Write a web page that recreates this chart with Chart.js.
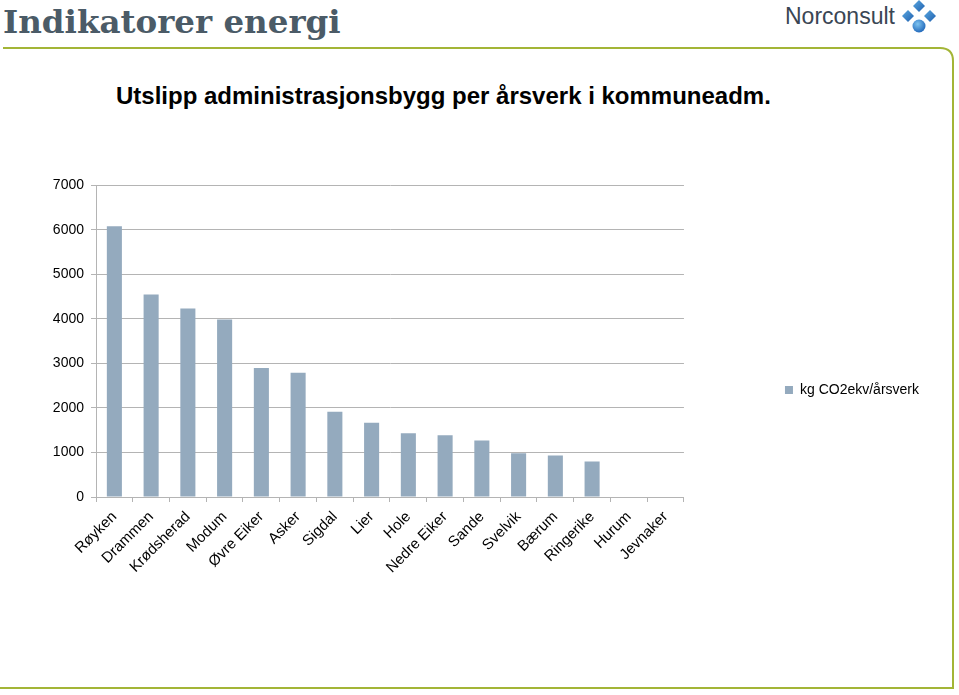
<!DOCTYPE html>
<html>
<head>
<meta charset="utf-8">
<script src="https://cdn.jsdelivr.net/npm/chart.js@4"></script>
<style>
  html, body { margin: 0; padding: 0; background: #fff; overflow: hidden; }
  body { width: 959px; height: 695px; position: relative; font-family: "Liberation Sans", Arial, sans-serif; }
  #heading { position: absolute; left: 3px; top: 0px; font-family: "DejaVu Serif", serif; font-weight: bold;
             font-size: 32.5px; color: #4b5b67; line-height: 44px; white-space: nowrap; }
  #brand { position: absolute; left: 785px; top: 1px; font-size: 23px; color: #3a4654; line-height: 30px; }
  #logo { position: absolute; left: 896px; top: 0; }
  #frame { position: absolute; left: 0; top: 0; }
  #title { position: absolute; left: 116px; top: 80px; font-size: 24px; font-weight: bold; color: #000;
           white-space: nowrap; line-height: 32px; }
  #wrap { position: absolute; left: 40px; top: 170px; width: 889px; height: 440px; }
</style>
</head>
<body>
<svg id="frame" width="959" height="695">
  <path d="M3 48 H940 Q953 48 953 61 V688 H0" fill="none" stroke="#a3b536" stroke-width="2"/>
</svg>
<div id="heading">Indikatorer energi</div>
<div id="brand">Norconsult</div>
<svg id="logo" width="44" height="36">
  <defs>
    <linearGradient id="g1" x1="0" y1="0" x2="1" y2="1">
      <stop offset="0" stop-color="#5aa8e0"/><stop offset="1" stop-color="#1f5fae"/>
    </linearGradient>
    <radialGradient id="g2" cx="0.4" cy="0.35" r="0.7">
      <stop offset="0" stop-color="#7fc4f0"/><stop offset="1" stop-color="#1d64b8"/>
    </radialGradient>
  </defs>
  <polygon points="23,0 29,6 23,12 17,6" fill="url(#g1)"/>
  <polygon points="12,10 18,16 12,22 6,16" fill="url(#g1)"/>
  <polygon points="34,10 40,16 34,22 28,16" fill="url(#g1)"/>
  <circle cx="23" cy="26" r="6.5" fill="url(#g2)"/>
</svg>
<div id="title">Utslipp administrasjonsbygg per årsverk i kommuneadm.</div>
<div id="wrap"><canvas id="myChart"></canvas></div>
<script>
const kommuner = ['Røyken', 'Drammen', 'Krødsherad', 'Modum', 'Øvre Eiker', 'Asker', 'Sigdal', 'Lier',
  'Hole', 'Nedre Eiker', 'Sande', 'Svelvik', 'Bærum', 'Ringerike', 'Hurum', 'Jevnaker']
const utslipp = [6080, 4550, 4235, 3990, 2900, 2790, 1915, 1670, 1430, 1385, 1270, 985, 935, 800, 0, 0]
const seriesLabel = 'kg CO2ekv/årsverk'
const yTicks = [0, 1000, 2000, 3000, 4000, 5000, 6000, 7000]

const canvas = document.getElementById('myChart')
const gridColor = '#b4b4b4'
const font = { family: '"Liberation Sans", Arial, sans-serif', size: 14 }

const config = {
  type: 'bar',
  data: {
    labels: kommuner,
    datasets: [{
      label: seriesLabel,
      data: utslipp,
      backgroundColor: '#94aabe',
      categoryPercentage: 1,
      barPercentage: 0.41
    }]
  },
  options: {
    responsive: true,
    maintainAspectRatio: false,
    animation: false,
    layout: { padding: { left: 13, top: 13, bottom: 13, right: 0 } },
    scales: {
      x: {
        grid: { drawOnChartArea: false, color: gridColor, tickLength: 5, offset: true },
        border: { color: gridColor },
        ticks: { color: '#000', font: { ...font, size: 15 }, minRotation: 45, maxRotation: 45, autoSkip: false, padding: 6 },
        afterFit: (scale) => { scale.height = 100 }
      },
      y: {
        min: 0,
        max: 7000,
        afterBuildTicks: (scale) => { scale.ticks = yTicks.map(v => ({ value: v })) },
        grid: { color: gridColor, tickLength: 5 },
        border: { color: gridColor },
        ticks: { color: '#000', font, padding: 7, callback: (v) => String(v) },
        afterFit: (scale) => { scale.width = 43 }
      }
    },
    plugins: {
      tooltip: { enabled: false },
      legend: {
        position: 'right',
        maxWidth: 400,
        labels: { color: '#000', font, boxWidth: 8, boxHeight: 8, padding: 101 }
      }
    }
  }
}

const myChart = new Chart(canvas, config)
</script>
</body>
</html>
